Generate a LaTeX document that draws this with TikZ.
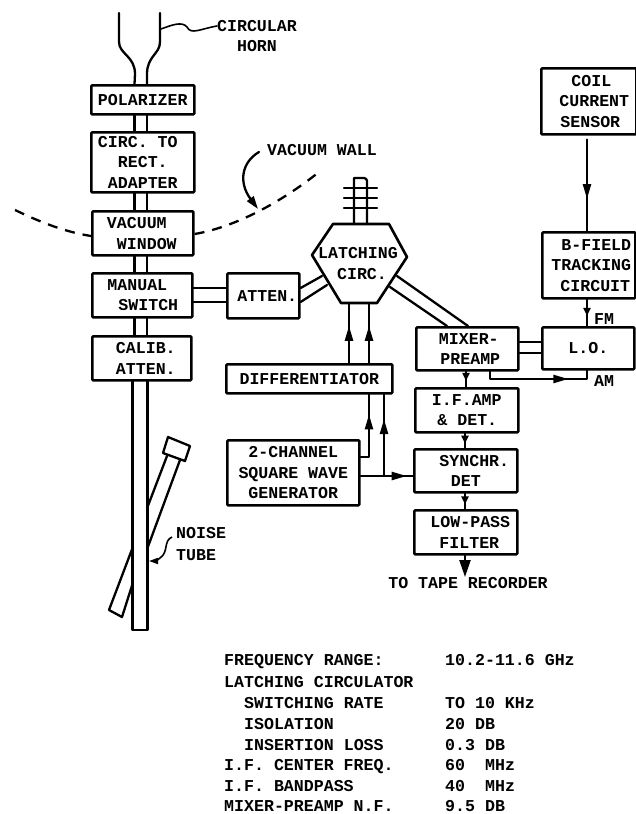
\documentclass[tikz,border=0pt]{standalone}
\usepackage{fontspec}
\setmainfont{Liberation Mono}[BoldFont=*-Bold]
\usetikzlibrary{arrows.meta,decorations.markings,calc}
\tikzset{
  ln/.style={line width=2.3pt,line cap=round,line join=round},
  boxnode/.style={draw,line width=2.6pt,rounded corners=1pt,inner sep=0pt,align=center,anchor=north west,font=\txt},
  lbl/.style={inner sep=0pt,align=center,font=\txt},
  tbl/.style={inner sep=0pt,anchor=base west,font=\txt},
  midtip/.style={postaction={decorate},decoration={markings,mark=at position #1 with {\arrow{Triangle[length=15pt,width=8pt]}}}},
  smalltip/.style={postaction={decorate},decoration={markings,mark=at position #1 with {\arrow{Triangle[length=8pt,width=7pt]}}}},
}
\newcommand{\txt}{\fontsize{16.6}{20.5}\selectfont\bfseries}
\newcommand{\bx}[6]{\path let \n1={#4-#2},\n2={#5-#3} in node[boxnode,minimum width=\n1 pt,minimum height=\n2 pt] (#1) at (#2,#3) {#6};}
\newcommand{\Ls}[1]{\hspace*{#1pt}}
\begin{document}
\begin{tikzpicture}[x=1pt,y=-1pt]
\useasboundingbox (0,0) rectangle (636,814);
\fill[white] (0,0) rectangle (636,814);
% boxes
\bx{pol}{90}{84}{193}{113}{POLARIZER}
\bx{circ}{90}{131}{193}{191}{CIRC. TO\Ls{10}\\RECT.\\ADAPTER}
\bx{win}{91}{210}{192}{254}{VACUUM\Ls{12}\\\Ls{8}WINDOW}
\bx{sw}{91}{272}{191}{316}{MANUAL\Ls{10}\\\Ls{12}SWITCH}
\bx{att}{226}{272}{298}{317}{\Ls{8}ATTEN.}
\bx{cal}{91}{335}{190}{379}{\Ls{8}CALIB.\\\Ls{8}ATTEN.}
\bx{coil}{540}{67}{635}{133}{\Ls{5}COIL\\\Ls{11}CURRENT\\\Ls{3}SENSOR}
\bx{bf}{541}{231}{634}{297}{\Ls{15}B-FIELD\\\Ls{5}TRACKING\\\Ls{13}CIRCUIT}
\bx{mix}{415}{326}{517}{369}{\Ls{3}MIXER-\\\Ls{6}PREAMP}
\bx{lo}{541}{326}{633}{368}{L.O.}
\bx{ifa}{414}{387}{517}{431}{I.F.AMP\\\Ls{1}\& DET.}
\bx{syn}{413}{448}{516}{491}{\Ls{17}SYNCHR.\\DET}
\bx{lp}{413}{509}{516}{553}{\Ls{9}LOW-PASS\\\Ls{7}FILTER}
\bx{dif}{225}{363}{391}{392}{DIFFERENTIATOR}
\bx{gen}{226}{439}{358}{504}{2-CHANNEL\\SQUARE WAVE\\GENERATOR}
% reference x and y positions
\coordinate (gl) at (134.5,0);
\coordinate (gr) at (147,0);
\coordinate (gl2) at (132.5,0);
\coordinate (gr2) at (147.5,0);
\coordinate (ya) at (0,288);
\coordinate (yb) at (0,302);
\coordinate (yc) at (0,342);
\coordinate (yd) at (0,353);
% latching circulator
\coordinate (h1) at (333,224);
\coordinate (h2) at (389,224);
\coordinate (h3) at (407,257);
\coordinate (h4) at (377,303);
\coordinate (h5) at (341,303);
\coordinate (h6) at (312,255);
\draw[ln,line width=2.6pt] (h1)--(h2)--(h3)--(h4)--(h5)--(h6)--cycle;
\node[lbl] (lat) at (358,263.5) {LATCHING\\\Ls{8}CIRC.};
% stub
\coordinate (sl) at (354,224);
\coordinate (sr) at (367,224);
\coordinate (st) at (360.5,178);
\draw[ln] (sl) -- (sl |- st) [rounded corners=3pt] -- (st) -- (sr |- st) -- (sr);
\coordinate (b1a) at (344,188); \coordinate (b1b) at (377,188);
\coordinate (b2a) at (344,198); \coordinate (b2b) at (377,198);
\coordinate (b3a) at (344,208); \coordinate (b3b) at (377,208);
\draw[ln] (b1a)--(b1b) (b2a)--(b2b) (b3a)--(b3b);
% horn
\coordinate (hl) at (119,13);
\coordinate (hr) at (160,13);
\draw[ln] (hl) -- (119,42) .. controls (119,54) and (135,56) .. (135,74) -- (pol.north -| gl);
\draw[ln] (hr) -- (160,42) .. controls (160,54) and (147,56) .. (147,74) -- (pol.north -| gr);
% waveguide
\foreach \g in {gl,gr}{
  \draw[ln] (pol.south -| \g) -- (circ.north -| \g);
  \draw[ln] (circ.south -| \g) -- (win.north -| \g);
  \draw[ln] (win.south -| \g) -- (sw.north -| \g);
  \draw[ln] (sw.south -| \g) -- (cal.north -| \g);
}
\coordinate (gb) at (140,630);
\draw[ln] (cal.south -| gl2) -- (gl2 |- gb) -- (gr2 |- gb) -- (cal.south -| gr2);
% switch - atten
\draw[ln] (sw.east |- ya) -- (att.west |- ya);
\draw[ln] (sw.east |- yb) -- (att.west |- yb);
% atten - circ
\coordinate (a1) at (322,276);
\coordinate (a2) at (327,285);
\draw[ln] (att.east |- ya) -- (a1);
\draw[ln] (att.east |- yb) -- (a2);
% circ - mixer
\coordinate (m1) at (397,276);
\coordinate (m2) at (390,287);
\coordinate (m3) at (468,326);
\coordinate (m4) at (447,326);
\draw[ln] (m1) -- (m3);
\draw[ln] (m2) -- (m4);
% mixer - LO
\draw[ln] (mix.east |- yc) -- (lo.west |- yc);
\draw[ln] (mix.east |- yd) -- (lo.west |- yd);
% differentiator - circ
\coordinate (xa) at (349,0);
\coordinate (xb) at (369,0);
\coordinate (xc) at (384,0);
\draw[ln,midtip=0.62] (dif.north -| xa) -- (h5 -| xa);
\draw[ln,midtip=0.62] (dif.north -| xb) -- (h5 -| xb);
% generator
\coordinate (gy1) at (0,457);
\coordinate (gy2) at (0,476);
\draw[ln,midtip=0.72] (gen.east |- gy1) -- (xb |- gy1) -- (dif.south -| xb);
\draw[ln,midtip=0.88] (gen.east |- gy2) -- (syn.west |- gy2);
\draw[ln,midtip=0.7] (xc |- gy2) -- (dif.south -| xc);
% coil etc
\draw[ln,midtip=0.65] (coil.south -| 587,0) ++(0,4) -- (bf.north -| 587,0);
\draw[ln,smalltip=0.62] (bf.south -| 587,0) -- (lo.north -| 587,0);
\coordinate (amy) at (0,379);
\draw[ln,midtip=0.76] (mix.south -| 490,0) -- (490,379) -- (587,379) -- (lo.south -| 587,0);
\draw[ln,smalltip=0.6] (mix.south -| 466,0) -- (ifa.north -| 466,0);
\draw[ln,smalltip=0.7] (ifa.south -| 465,0) -- (syn.north -| 465,0);
\draw[ln,smalltip=0.7] (syn.south -| 465,0) -- (lp.north -| 465,0);
\coordinate (tape) at (465,577);
\draw[ln,-{Triangle[length=17pt,width=11pt]}] (lp.south -| tape) -- (tape);
\node[lbl,anchor=base] (taper) at (468,588) {TO TAPE RECORDER};
\node[lbl,anchor=base] (fm) at (604,324) {FM};
\node[lbl,anchor=base] (am) at (604,386) {AM};
% labels
\node[lbl] (horn) at (257,36) {CIRCULAR\\HORN};
\coordinate (hs) at (161,29);
\draw[line width=1.6pt,line cap=round] (hs) .. controls (172,25) and (182,21) .. (187,27) .. controls (191,35) and (200,29) .. (horn.west |- 0,26);
\node[lbl,anchor=base west] (vw) at (267,155) {VACUUM WALL};
\coordinate (vt) at (258,209);
\draw[ln,-{Triangle[length=13pt,width=8pt]}] (vw.west |- 0,152) ++(-8,0) .. controls (242,162) and (238,182) .. (vt);
% dashed wall
\coordinate (w1) at (15,210);
\coordinate (w2) at (319,172);
\draw[ln,dash pattern=on 10pt off 8pt,line cap=butt] (w1) .. controls (40,222) and (65,232) .. (win.west |- 0,236);
\draw[ln,dash pattern=on 10pt off 8pt,line cap=butt] (win.east |- 0,234) .. controls (230,228) and (275,207) .. (w2);
% noise tube
\coordinate (n1) at (168,437);
\coordinate (n2) at (190,446);
\coordinate (n3) at (185,461);
\coordinate (n4) at (163,453);
\draw[ln] (n1)--(n2)--(n3)--(n4)--cycle;
\coordinate (t1) at (167,456);
\coordinate (t2) at (180,460);
\draw[ln] (t1) -- (gr2 |- 0,507);
\draw[ln] (t2) -- (gr2 |- 0,548);
\coordinate (t3) at (109,610);
\coordinate (t4) at (122,617);
\draw[ln] (gl2 |- 0,548) -- (t3) -- (t4) -- (gl2 |- 0,584);
\node[lbl,anchor=base west] (noise) at (176,538) {NOISE};
\node[lbl,anchor=base west] (tube) at (176,560) {TUBE};
\coordinate (ntip) at (149,561);
\draw[line width=1.6pt,-{Triangle[length=9pt,width=6pt]}] (noise.west |- 0,537) ++(-4,0) .. controls (163,541) and (169,552) .. (160,558) .. controls (157,561) and (154,561) .. (ntip);
% table
\foreach \y/\a/\b in {
 665/{FREQUENCY RANGE:}/{10.2-11.6 GHz},
 687/{LATCHING CIRCULATOR}/{},
 708/{\Ls{20}SWITCHING RATE}/{TO 10 KHz},
 729/{\Ls{20}ISOLATION}/{20 DB},
 750/{\Ls{20}INSERTION LOSS}/{0.3 DB},
 770/{I.F. CENTER FREQ.}/{60\Ls{20}MHz},
 791/{I.F. BANDPASS}/{40\Ls{20}MHz},
 811/{MIXER-PREAMP N.F.}/{9.5 DB}}{
  \node[tbl] at (224,\y) {\a};
  \node[tbl] at (445,\y) {\b};
}
\end{tikzpicture}
\end{document}
